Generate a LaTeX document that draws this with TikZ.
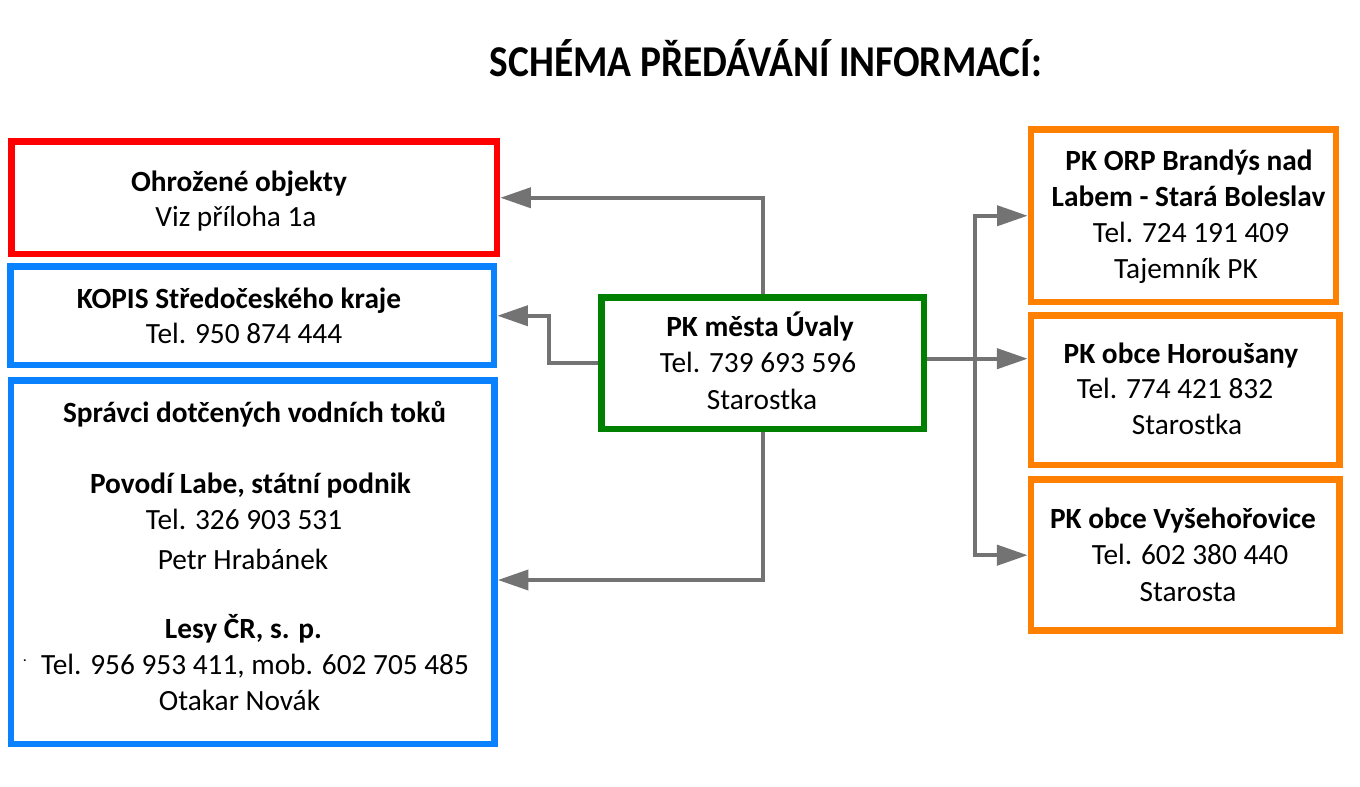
\documentclass[tikz,border=0pt]{standalone}
\usepackage{fontspec}
\setmainfont{Carlito}
\usetikzlibrary{arrows.meta}
\definecolor{cred}{HTML}{FF0000}
\definecolor{cblue}{HTML}{0A82FF}
\definecolor{cgreen}{HTML}{008000}
\definecolor{corange}{HTML}{FF8000}
\definecolor{cgray}{HTML}{737373}
\begin{document}
\begin{tikzpicture}[x=0.75pt,y=-0.75pt,
  box/.style={draw, line width=5pt, rectangle, inner sep=0pt, fill=white},
  txt/.style={anchor=base, inner sep=0pt, font=\fontsize{22}{26}\selectfont},
  btxt/.style={anchor=base, inner sep=0pt, font=\fontsize{22}{26}\selectfont\bfseries},
  conn/.style={draw=cgray, line width=3pt, -{Triangle[length=23pt,width=15pt]}}]
\useasboundingbox (0,0) rectangle (1360,787);
\fill[white] (0,0) rectangle (1360,787);

% title
\node[anchor=base, inner sep=0pt, font=\fontsize{33}{40}\selectfont\bfseries] (title) at (766,77) {\scalebox{0.895}[1]{SCHÉMA PŘEDÁVÁNÍ INFORMACÍ:}};

% boxes
\node[box, draw=cred, minimum width=364.1pt, minimum height=84.4pt] (red) at (254.25,197.75) {};
\node[box, draw=cblue, minimum width=362.6pt, minimum height=73.9pt] (kopis) at (252.25,315.75) {};
\node[box, draw=cblue, minimum width=362.6pt, minimum height=272.6pt] (big) at (252.75,562.25) {};
\node[box, draw=cgreen, minimum width=241.7pt, minimum height=98.6pt] (green) at (762.85,363.25) {};
\node[box, draw=corange, minimum width=228.75pt, minimum height=129.4pt] (o1) at (1183.5,215.75) {};
\node[box, draw=corange, minimum width=231.4pt, minimum height=112pt] (o2) at (1185.25,390.35) {};
\node[box, draw=corange, minimum width=231.4pt, minimum height=113.25pt] (o3) at (1185.25,555.2) {};

% texts: red
\node[btxt] (r1) at (239,191.7) {Ohrožené objekty};
\node[txt] (r2) at (236,226.7) {Viz příloha 1a};
% kopis
\node[btxt] (k1) at (239,308.3) {KOPIS Středočeského kraje};
\node[txt] (k2) at (244,343.3) {Tel. 950 874 444};
% big
\node[btxt] (b1) at (254.5,422.7) {Správci dotčených vodních toků};
\node[btxt] (b2) at (250.5,494) {Povodí Labe, státní podnik};
\node[txt] (b3) at (244,530) {Tel. 326 903 531};
\node[txt] (b4) at (243,570) {Petr Hrabánek};
\node[btxt] (b5) at (243.5,638) {Lesy ČR, s. p.};
\node[txt] (b6) at (255,674) {Tel. 956 953 411, mob. 602 705 485};
\node[txt] (b7) at (239.5,710) {Otakar Novák};
\node[anchor=base, inner sep=0pt, font=\fontsize{12}{14}\selectfont] (bdot) at (25,661) {.};
% green
\node[btxt] (g1) at (760,336.7) {PK města Úvaly};
\node[txt] (g2) at (758,372.7) {Tel. 739 693 596};
\node[txt] (g3) at (762,409.3) {Starostka};
% orange 1
\node[btxt] (p1) at (1189,171) {PK ORP Brandýs nad};
\node[btxt] (p2) at (1188.5,207) {Labem - Stará Boleslav};
\node[txt] (p3) at (1191,243) {Tel. 724 191 409};
\node[txt] (p4) at (1186,279) {Tajemník PK};
% orange 2
\node[btxt] (h1) at (1181,364) {PK obce Horoušany};
\node[txt] (h2) at (1175,399) {Tel. 774 421 832};
\node[txt] (h3) at (1187,435) {Starostka};
% orange 3
\node[btxt] (v1) at (1183,529) {PK obce Vyšehořovice};
\node[txt] (v2) at (1190,565) {Tel. 602 380 440};
\node[txt] (v3) at (1188,601) {Starosta};

% connectors
\coordinate (kb) at (548.7,362.7);
\coordinate (bb) at (762.5,580);
\coordinate (hh) at (975,358.7);
\coordinate (trunk) at (975,385);
\draw[conn] (green.north) |- (red.east);
\draw[conn] (green.west |- kb) -- (kb) |- (kopis.east);
\draw[conn] (green.south -| bb) -- (bb) -- (bb -| big.east);
\draw[conn] (green.east |- hh) -- (hh -| o2.west);
\draw[conn] (trunk) |- (o1.west);
\draw[conn] (trunk) |- (o3.west);
\end{tikzpicture}
\end{document}
